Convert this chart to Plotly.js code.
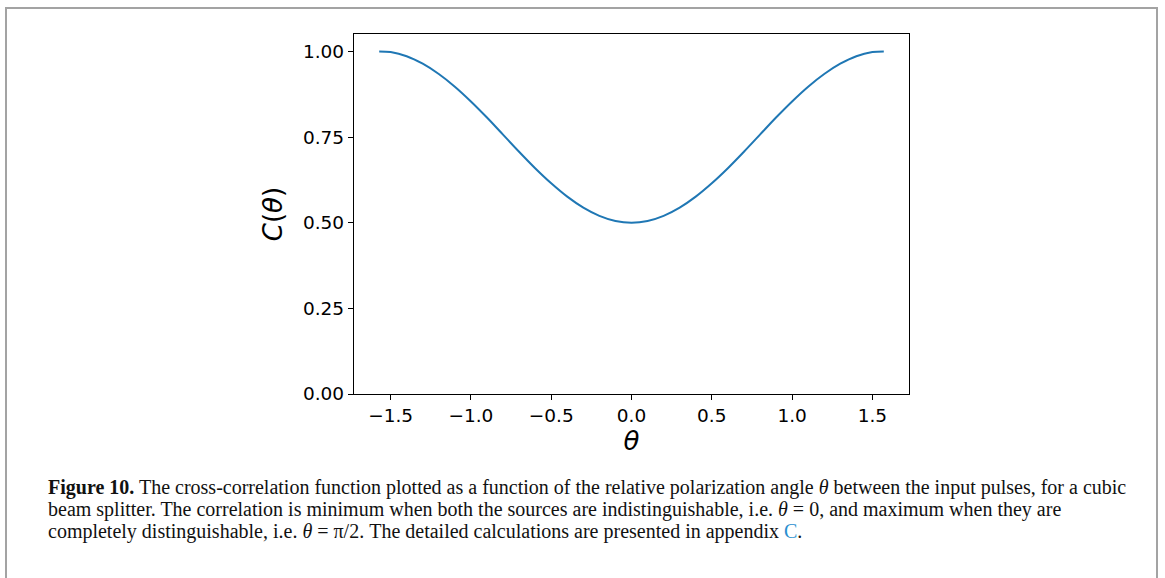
<!DOCTYPE html>
<html>
<head>
<meta charset="utf-8">
<script src="https://cdn.plot.ly/plotly-3.0.1.min.js"></script>
<style>
  html, body { margin: 0; padding: 0; background: #fff; }
  #wrap { position: relative; width: 1165px; height: 578px; overflow: hidden; }
  #frame { position: absolute; left: 5px; top: 7px; width: 1153px; height: 600px;
           border: 2px solid #a3a3a3; box-sizing: border-box; pointer-events: none; }
  #chart { position: absolute; left: 0; top: 0; width: 1165px; height: 578px; }
</style>
</head>
<body>
<div id="wrap">
  <div id="chart"></div>
  <div id="frame"></div>
</div>
<script>
// Polarization angle θ (rad) and cross-correlation C(θ)
const theta = [-1.571, -1.5, -1.4, -1.3, -1.2, -1.1, -1.0, -0.9, -0.8, -0.7, -0.6, -0.5, -0.4, -0.3, -0.2, -0.1, 0.0,
               0.1, 0.2, 0.3, 0.4, 0.5, 0.6, 0.7, 0.8, 0.9, 1.0, 1.1, 1.2, 1.3, 1.4, 1.5, 1.571];
const corr  = [1.000, 0.998, 0.986, 0.964, 0.934, 0.897, 0.854, 0.807, 0.757, 0.707, 0.659, 0.615, 0.576, 0.544, 0.520, 0.505, 0.500,
               0.505, 0.520, 0.544, 0.576, 0.615, 0.659, 0.707, 0.757, 0.807, 0.854, 0.897, 0.934, 0.964, 0.986, 0.998, 1.000];
const xTickVals = [-1.5, -1.0, -0.5, 0.0, 0.5, 1.0, 1.5];
const xTickText = ['\u22121.5', '\u22121.0', '\u22120.5', '0.0', '0.5', '1.0', '1.5'];
const yTickVals = [0.0, 0.25, 0.5, 0.75, 1.0];
const yTickText = ['0.00', '0.25', '0.50', '0.75', '1.00'];

const captionLines = [
  '<b>Figure 10.</b> The cross-correlation function plotted as a function of the relative polarization angle <i>θ</i> between the input pulses, for a cubic',
  'beam splitter. The correlation is minimum when both the sources are indistinguishable, i.e. <i>θ</i> = 0, and maximum when they are',
  'completely distinguishable, i.e. <i>θ</i> = π/2. The detailed calculations are presented in appendix <span style="color:#2a8fd0">C</span>.'
];

const L = 354, R = 909, T = 34, B = 394, W = 1165, H = 578;
const pw = R - L, ph = B - T;
const px2x = p => (p - L) / pw;
const py2y = p => (B - p) / ph;

const captionY = [487, 509, 531];
const annotations = captionLines.map((t, i) => ({
  text: t, xref: 'paper', yref: 'paper', x: px2x(46), y: py2y(captionY[i]),
  xanchor: 'left', yanchor: 'middle', showarrow: false, align: 'left',
  font: { family: 'Liberation Serif, serif', size: 20, color: '#111' }
}));

const trace = {
  x: theta, y: corr, type: 'scatter', mode: 'lines',
  line: { color: '#1f77b4', width: 2, shape: 'spline', smoothing: 1 }, hoverinfo: 'skip'
};

const tickFont = { family: 'DejaVu Sans, sans-serif', size: 18.5, color: '#000' };
const titleFont = { family: 'DejaVu Sans, sans-serif', size: 26, color: '#000' };
const layout = {
  width: W, height: H,
  margin: { l: L, r: W - R, t: T, b: H - B, pad: 0 },
  paper_bgcolor: '#fff', plot_bgcolor: '#fff',
  showlegend: false,
  xaxis: {
    range: [-1.7279, 1.7279], showgrid: false, zeroline: false,
    showline: true, linecolor: '#000', linewidth: 1.2, mirror: true,
    ticks: 'outside', ticklen: 5, tickwidth: 1, tickcolor: '#000',
    tickvals: xTickVals, ticktext: xTickText, tickfont: tickFont,
    title: { text: '<i>θ</i>', font: titleFont, standoff: 6 }
  },
  yaxis: {
    range: [0, 1.0508], showgrid: false, zeroline: false,
    showline: true, linecolor: '#000', linewidth: 1.2, mirror: true,
    ticks: 'outside', ticklen: 5, tickwidth: 1, tickcolor: '#000',
    tickvals: yTickVals, ticktext: yTickText, tickfont: tickFont,
    title: { text: '<i>C</i>(<i>θ</i>)', font: titleFont, standoff: 12 }
  },
  annotations: annotations
};

Plotly.newPlot('chart', [trace], layout, { staticPlot: true, displayModeBar: false });
</script>
</body>
</html>
